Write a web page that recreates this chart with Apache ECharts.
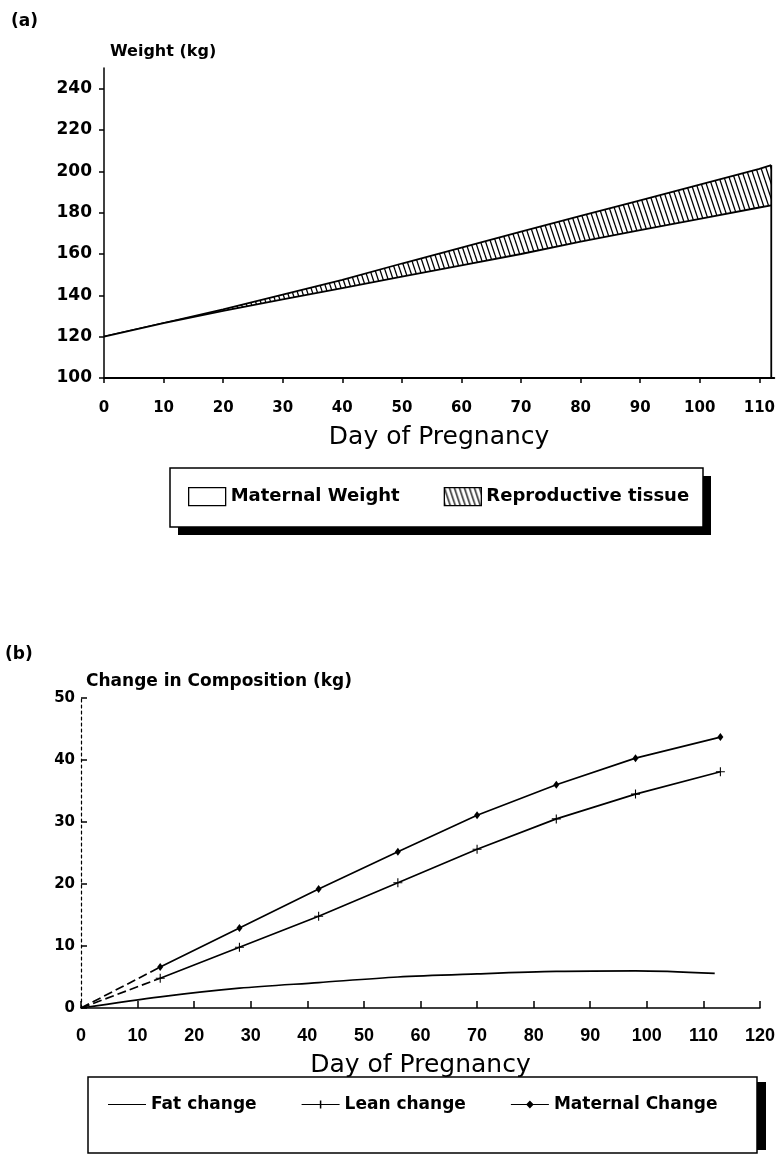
<!DOCTYPE html>
<html>
<head>
<meta charset="utf-8">
<script src="https://cdn.jsdelivr.net/npm/echarts@6/dist/echarts.min.js"></script>
<style>
html,body{margin:0;padding:0;background:#fff;}
#c{width:778px;height:1159px;}
</style>
</head>
<body>
<div id="c"></div>
<script>
// ---------- Panel (a) data ----------
const daysA = [0, 10, 20, 30, 40, 50, 60, 70, 80, 90, 100, 110, 112];
const maternalWeight = [120, 126.5, 132.5, 138, 143.5, 149, 154.5, 160, 166, 171.5, 177, 182.5, 183.5];
const totalWeight = [120, 126.6, 133.2, 140.3, 147.5, 155.4, 163.1, 170.8, 178.4, 186, 193.6, 201.2, 203];
const xTicksA = [0, 10, 20, 30, 40, 50, 60, 70, 80, 90, 100, 110];
const yTicksA = [100, 120, 140, 160, 180, 200, 220, 240];

// ---------- Panel (b) data ----------
const daysB = [0, 14, 28, 42, 56, 70, 84, 98, 113];
const daysFat = [0, 14, 28, 42, 56, 70, 84, 98, 112];
const fatChange = [0, 1.8, 3.2, 4.1, 5.0, 5.5, 5.9, 6.0, 5.6];
const leanChange = [0, 4.8, 9.8, 14.8, 20.2, 25.6, 30.5, 34.5, 38.1];
const maternalChange = [0, 6.6, 12.9, 19.2, 25.2, 31.1, 36.0, 40.3, 43.7];
const xTicksB = [0, 10, 20, 30, 40, 50, 60, 70, 80, 90, 100, 110, 120];
const yTicksB = [0, 10, 20, 30, 40, 50];

function zip(xs, ys) { return xs.map((x, i) => [x, ys[i]]); }

function hatchCanvas() {
  const c = document.createElement('canvas');
  c.width = 5; c.height = 15;
  const g = c.getContext('2d');
  g.fillStyle = '#fff';
  g.fillRect(0, 0, 5, 15);
  g.strokeStyle = '#000';
  g.lineWidth = 1.3;
  for (const o of [-5, 0, 5]) {
    g.beginPath(); g.moveTo(o, 0); g.lineTo(o + 5, 15); g.stroke();
  }
  return c;
}
const hatch = { image: hatchCanvas(), repeat: 'repeat' };

const FONT = 'DejaVu Sans';
const lastIdx = daysA.length - 1;
const leanPts = zip(daysB, leanChange);
const matPts = zip(daysB, maternalChange);
const plusPath = 'path://M4.4,0H5.6V10H4.4Z M0,4.4H10V5.6H0Z';
// tiny corner dots keep the icon's bounding box full height
const dots = 'M0,0H0.05V0.05H0Z M29.95,11.95H30V12H29.95Z ';

const chart = echarts.init(document.getElementById('c'), null, { renderer: 'canvas' });
chart.setOption({
  backgroundColor: '#fff',
  animation: false,
  title: [
    { text: '(a)', left: 6, top: 8, textStyle: { fontFamily: FONT, fontWeight: 'bold', fontSize: 17, color: '#000' } },
    { text: '(b)', left: 0, top: 641, textStyle: { fontFamily: FONT, fontWeight: 'bold', fontSize: 17, color: '#000' } }
  ],
  graphic: [
    { type: 'rect', z: 1, silent: true, shape: { x: 178, y: 476, width: 533, height: 59 }, style: { fill: '#000' } },
    { type: 'rect', z: 2, silent: true, shape: { x: 170, y: 468, width: 533, height: 59 }, style: { fill: '#fff', stroke: '#000', lineWidth: 1.5 } },
    { type: 'rect', z: 1, silent: true, shape: { x: 97, y: 1082, width: 669, height: 68 }, style: { fill: '#000' } },
    { type: 'rect', z: 2, silent: true, shape: { x: 88, y: 1077, width: 669, height: 76 }, style: { fill: '#fff', stroke: '#000', lineWidth: 1.5 } }
  ],
  grid: [
    { left: 104, top: 68, width: 674, height: 310 },
    { left: 81, top: 698, width: 683, height: 310 }
  ],
  xAxis: [
    {
      gridIndex: 0, type: 'value', min: 0, max: 112.5, interval: 10, z: 5,
      name: 'Day of Pregnancy', nameLocation: 'middle', nameGap: 47,
      nameTextStyle: { fontFamily: FONT, fontSize: 25, color: '#000' },
      axisLine: { lineStyle: { color: '#000', width: 2 } },
      axisTick: { customValues: xTicksA, length: 5, lineStyle: { color: '#000', width: 1.5 } },
      axisLabel: { customValues: xTicksA, margin: 23, fontFamily: FONT, fontWeight: 'bold', fontSize: 15, color: '#000' },
      splitLine: { show: false }
    },
    {
      gridIndex: 1, type: 'value', min: 0, max: 120, interval: 10, z: 5,
      name: 'Day of Pregnancy', nameLocation: 'middle', nameGap: 45,
      nameTextStyle: { fontFamily: FONT, fontSize: 25, color: '#000' },
      axisLine: { lineStyle: { color: '#000', width: 1.5 } },
      axisTick: { customValues: xTicksB, inside: true, length: 7, lineStyle: { color: '#000', width: 1.5 } },
      axisLabel: { customValues: xTicksB, margin: 19, fontFamily: 'Liberation Sans', fontWeight: 'bold', fontSize: 18, color: '#000' },
      splitLine: { show: false }
    }
  ],
  yAxis: [
    {
      gridIndex: 0, type: 'value', min: 100, max: 250, z: 5,
      name: 'Weight (kg)', nameLocation: 'end', nameGap: 16,
      nameTextStyle: { fontFamily: FONT, fontWeight: 'bold', fontSize: 16, color: '#000', align: 'left', verticalAlign: 'middle', padding: [0, 0, 0, 6] },
      axisLine: { show: true, lineStyle: { color: '#000', width: 1.5 } },
      axisTick: { show: true, customValues: yTicksA, length: 5, lineStyle: { color: '#000', width: 1.5 } },
      axisLabel: { customValues: yTicksA, margin: 12, fontFamily: FONT, fontWeight: 'bold', fontSize: 17, color: '#000' },
      splitLine: { show: false }
    },
    {
      gridIndex: 1, type: 'value', min: 0, max: 50, interval: 10, z: 5,
      name: 'Change in Composition (kg)', nameLocation: 'end', nameGap: 16,
      nameTextStyle: { fontFamily: FONT, fontWeight: 'bold', fontSize: 17, color: '#000', align: 'left', verticalAlign: 'middle', padding: [0, 0, 0, 5] },
      axisLine: { show: true, lineStyle: { color: '#000', width: 1.2, type: [3, 3] } },
      axisTick: { show: true, customValues: yTicksB, inside: true, length: 6, lineStyle: { color: '#000', width: 1.5 } },
      axisLabel: { customValues: yTicksB, margin: 6, fontFamily: FONT, fontWeight: 'bold', fontSize: 15, color: '#000' },
      splitLine: { show: false }
    }
  ],
  legend: [
    {
      left: 188, top: 487, z: 10,
      orient: 'horizontal', padding: 0,
      itemGap: 44, itemWidth: 37, itemHeight: 18,
      symbolKeepAspect: false,
      textStyle: { fontFamily: FONT, fontWeight: 'bold', fontSize: 18, color: '#000' },
      data: [
        { name: 'Maternal Weight', icon: 'rect', itemStyle: { color: '#fff', borderColor: '#000', borderWidth: 1.3 } },
        { name: 'Reproductive tissue', icon: 'rect', itemStyle: { color: hatch, borderColor: '#000', borderWidth: 1.3 } }
      ]
    },
    {
      left: 108, top: 1096, z: 10,
      orient: 'horizontal', padding: 0,
      itemGap: 45, itemWidth: 38, itemHeight: 12,
      symbolKeepAspect: false,
      textStyle: { fontFamily: FONT, fontWeight: 'bold', fontSize: 17, color: '#000' },
      data: [
        { name: 'Fat change', icon: 'path://' + dots + 'M0,5.4H30V6.6H0Z', itemStyle: { color: '#000' } },
        { name: 'Lean change', icon: 'path://' + dots + 'M0,5.4H30V6.6H0Z M14.4,2H15.6V10H14.4Z', itemStyle: { color: '#000' } },
        { name: 'Maternal Change', icon: 'path://' + dots + 'M0,5.4H30V6.6H0Z M15,2L18,6L15,10L12,6Z', itemStyle: { color: '#000' } }
      ]
    }
  ],
  series: [
    {
      name: 'Reproductive tissue', type: 'line', xAxisIndex: 0, yAxisIndex: 0, z: 2,
      data: zip(daysA, totalWeight), symbol: 'none',
      lineStyle: { color: '#000', width: 1.8 }, itemStyle: { color: '#000' },
      areaStyle: { color: hatch, opacity: 1 }
    },
    {
      name: 'Maternal Weight', type: 'line', xAxisIndex: 0, yAxisIndex: 0, z: 3,
      data: zip(daysA, maternalWeight), symbol: 'none',
      lineStyle: { color: '#000', width: 1.8 }, itemStyle: { color: '#fff' },
      areaStyle: { color: '#fff', opacity: 1 }
    },
    {
      name: 'edge', type: 'line', xAxisIndex: 0, yAxisIndex: 0, silent: true, z: 4,
      data: [[daysA[lastIdx], yTicksA[0]], [daysA[lastIdx], totalWeight[lastIdx]]],
      symbol: 'none', lineStyle: { color: '#000', width: 1.8 }
    },
    {
      name: 'Fat change', type: 'line', xAxisIndex: 1, yAxisIndex: 1,
      data: zip(daysFat, fatChange), symbol: 'none', smooth: 0.3,
      lineStyle: { color: '#000', width: 1.7 }, itemStyle: { color: '#000' }
    },
    {
      name: 'Lean change', type: 'line', xAxisIndex: 1, yAxisIndex: 1,
      data: leanPts.slice(1), symbol: plusPath, symbolSize: 9,
      lineStyle: { color: '#000', width: 1.7 }, itemStyle: { color: '#000' }
    },
    {
      name: 'lean-start', type: 'line', xAxisIndex: 1, yAxisIndex: 1, silent: true,
      data: leanPts.slice(0, 2), symbol: 'none',
      lineStyle: { color: '#000', width: 1.7, type: [9, 4] }
    },
    {
      name: 'Maternal Change', type: 'line', xAxisIndex: 1, yAxisIndex: 1,
      data: matPts.slice(1), symbol: 'diamond', symbolSize: [6, 8],
      lineStyle: { color: '#000', width: 1.7 }, itemStyle: { color: '#000' }
    },
    {
      name: 'mat-start', type: 'line', xAxisIndex: 1, yAxisIndex: 1, silent: true,
      data: matPts.slice(0, 2), symbol: 'none',
      lineStyle: { color: '#000', width: 1.7, type: [9, 4] }
    }
  ]
});
</script>
</body>
</html>
